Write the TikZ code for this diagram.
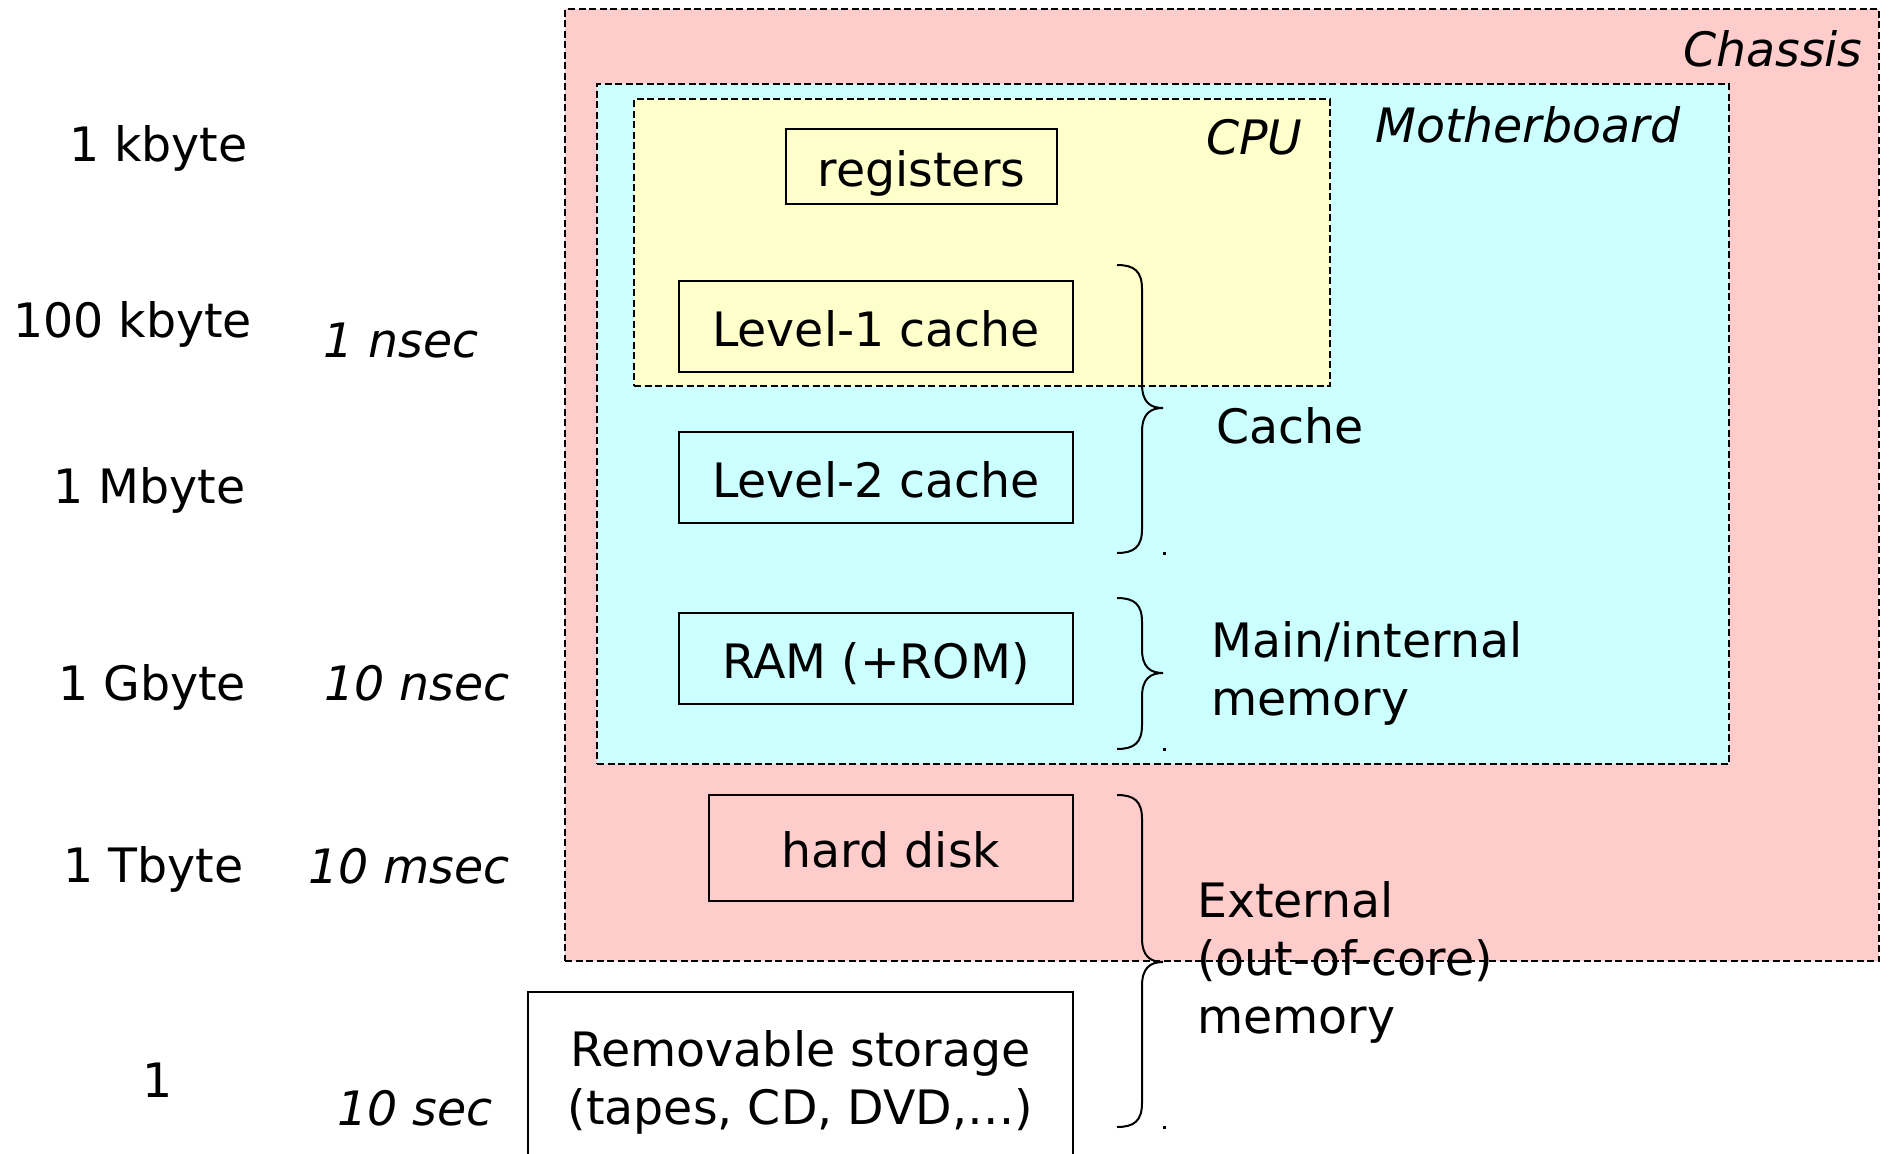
\documentclass[tikz,border=0pt]{standalone}
\usepackage{fontspec}
\setmainfont{DejaVu Sans}
\definecolor{chassisfill}{HTML}{FFCCCC}
\definecolor{boardfill}{HTML}{CCFFFF}
\definecolor{cpufill}{HTML}{FFFFCC}
% curly brace on the right of the storage boxes: top, tip and bottom y
\newcommand\membrace[3]{%
  \draw[bracepath] (1117,#1) .. controls (1134,#1) and (1142,#1+6) .. (1142,#1+24)
    -- (1142,#2-24) .. controls (1142,#2-6) and (1150,#2) .. (1163,#2)
    .. controls (1150,#2) and (1142,#2+6) .. (1142,#2+24)
    -- (1142,#3-24) .. controls (1142,#3-6) and (1134,#3) .. (1117,#3);
  \fill (1163,#3-1) rectangle (1166,#3+1.5);}
\begin{document}
\begin{tikzpicture}[x=1pt,y=-1pt,
  every node/.style={font=\fontsize{47.4}{58}\selectfont, inner sep=0pt},
  zone/.style={draw=black, line width=1.8pt, dash pattern=on 7pt off 3.5pt},
  unitbox/.style={draw=black, line width=2pt, text height=39pt, text depth=0pt},
  lbl/.style={anchor=base west},
  tlbl/.style={anchor=base west, font=\fontsize{47.4}{58}\selectfont\itshape},
  bracepath/.style={line width=2pt},
]
\useasboundingbox (0,0) rectangle (1891,1154);
\clip (0,0) rectangle (1891,1154);

% nested enclosures
\node (chassis) [zone, fill=chassisfill, minimum width=1314pt, minimum height=952pt] at (1222,485) {};
\node (board) [zone, fill=boardfill, minimum width=1132pt, minimum height=680pt] at (1163,424) {};
\node (cpu) [zone, fill=cpufill, minimum width=696pt, minimum height=287pt] at (982,242.5) {};

\node (chassislbl) [tlbl] at (1683,66) {Chassis};
\node (boardlbl) [tlbl] at (1375,142) {Motherboard};
\node (cpulbl) [tlbl] at (1206,154) {CPU};

% storage levels
\node (reg) [unitbox, minimum width=271pt, minimum height=75pt] at (921.5,166.5) {registers};
\node (l1) [unitbox, minimum width=394pt, minimum height=91pt] at (876,326.5) {Level-1 cache};
\node (l2) [unitbox, minimum width=394pt, minimum height=91pt] at (876,477.5) {Level-2 cache};
\node (ram) [unitbox, minimum width=394pt, minimum height=91pt] at (876,658.5) {RAM (+ROM)};
\node (disk) [unitbox, minimum width=364pt, minimum height=106pt] at (891,848) {hard disk};
\node (removable) [draw=black, line width=2pt, fill=white, align=center,
  minimum width=545pt, minimum height=180pt] at (800.5,1082) {Removable storage\\(tapes, CD, DVD,…)};

% capacity column
\node (c1) [lbl] at (69,161) {1 kbyte};
\node (c2) [lbl] at (13,337) {100 kbyte};
\node (c3) [lbl] at (53,503) {1 Mbyte};
\node (c4) [lbl] at (58,700) {1 Gbyte};
\node (c5) [lbl] at (63,882) {1 Tbyte};
\node (c6) [lbl] at (142,1097) {1};

% access time column
\node (t1) [tlbl] at (323,357) {1 nsec};
\node (t2) [tlbl] at (324,700) {10 nsec};
\node (t3) [tlbl] at (308,883) {10 msec};
\node (t4) [tlbl] at (337,1125) {10 sec};

% groupings
\membrace{265}{408}{553}
\membrace{598}{673}{749}
\membrace{795}{962}{1127}

% multi-line labels are anchored at the baseline of their last line
\node (cachelbl) [lbl] at (1216,443) {Cache};
\node (mainlbl) [lbl, align=left] at (1211,715) {Main/internal\\memory};
\node (extlbl) [lbl, align=left] at (1197,1033) {External\\(out-of-core)\\memory};
\end{tikzpicture}
\end{document}
